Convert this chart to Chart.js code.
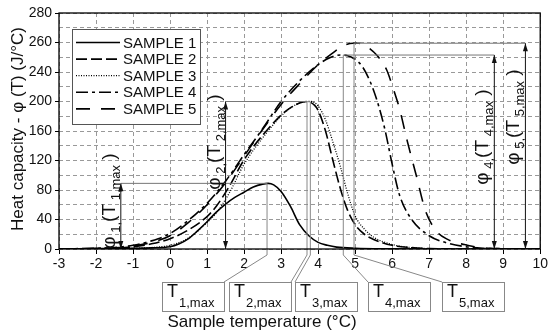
<!DOCTYPE html>
<html>
<head>
<meta charset="utf-8">
<script src="https://cdn.jsdelivr.net/npm/chart.js@4.4.1/dist/chart.umd.min.js"></script>
<style>
    html, body { margin: 0; padding: 0; background: #fff; }
</style>
</head>
<body>
<canvas id="heat-chart" width="550" height="334"></canvas>
<script>
// Heat capacity vs sample temperature, five samples

var sampleLabels = ["SAMPLE 1", "SAMPLE 2", "SAMPLE 3", "SAMPLE 4", "SAMPLE 5"];

var s1Temp = [-3, -2, -1, -0.5, 0, 0.25, 0.5, 0.75, 1, 1.25, 1.5, 1.75, 2, 2.25, 2.5, 2.65, 2.8, 3, 3.25, 3.5, 3.75, 4, 4.25, 4.5, 5, 6, 7, 10];
var s1Phi = [0, 0.5, 1, 1.5, 3, 7, 14, 25, 37, 50, 61, 70, 77, 84, 88, 89, 87, 78, 58, 33, 18, 9, 5, 2.5, 1, 0.3, 0, 0];

var s2Temp = [-3, -2, -1, -0.5, 0, 0.5, 1, 1.25, 1.6, 2, 2.6, 3.1, 3.5, 3.7, 3.9, 4, 4.2, 4.4, 4.6, 4.8, 5, 5.25, 5.5, 6, 6.5, 7, 8, 10];
var s2Phi = [0, 0.5, 3, 7, 14, 26, 44, 58, 85, 121, 160, 186, 198, 200, 195, 188, 160, 120, 82, 52, 33, 20, 13, 5, 2, 0.5, 0, 0];

var s3Temp = [-3, -2, -1, -0.5, 0, 0.5, 1, 1.25, 1.6, 2, 2.6, 3.1, 3.5, 3.8, 4, 4.2, 4.4, 4.6, 4.8, 5, 5.25, 5.5, 6, 6.5, 7, 8, 10];
var s3Phi = [0, 0.3, 1, 2, 5, 15, 36, 49, 76, 115, 157, 185, 198, 200, 194, 175, 145, 112, 75, 45, 27, 16, 6, 2, 0.5, 0, 0];

var s4Temp = [-3, -2, -1.5, -1, -0.5, 0, 0.5, 1, 1.5, 2, 2.5, 3, 3.5, 4, 4.3, 4.6, 4.8, 5, 5.2, 5.5, 5.8, 6, 6.2, 6.5, 7, 7.5, 8, 8.5, 9, 10];
var s4Phi = [0, 1, 2, 5, 11, 21, 39, 62, 92, 128, 163, 200, 228, 250, 259, 263, 262, 257, 247, 215, 163, 115, 73, 42, 18, 8, 3, 1, 0.3, 0];

var s5Temp = [-3, -2, -1.5, -1, -0.5, 0, 0.5, 1, 1.5, 2, 2.5, 3, 3.5, 4, 4.4, 4.7, 4.95, 5.1, 5.3, 5.6, 5.85, 6, 6.2, 6.4, 6.65, 6.9, 7.2, 7.5, 7.95, 8.4, 9, 10];
var s5Phi = [0, 0.5, 1.5, 4, 9, 18, 36, 60, 90, 126, 162, 196, 224, 250, 266, 276, 279, 279, 275, 262, 243, 222, 190, 148, 100, 52, 24, 13, 6, 2, 0.5, 0];

// y axis is evenly spaced, but printed with these labels
var yTickLabels = ["0", "40", "80", "120", "160", "200", "240", "260", "280"];

// marked maxima
var peakTemp = [2.62, 3.70, 3.79, 4.68, 4.97];
var peakPhi = [89, 200, 200, 263, 279];
var arrowTemp = [-1.33, 1.5, null, 8.76, 9.6];

var FONT = "'Liberation Sans', Arial, sans-serif";

function pairs(t, p) {
    var out = [];
    for (var i = 0; i < t.length; i++) out.push({ x: t[i], y: p[i] });
    return out;
}

var lineStyles = [
    { dash: [], width: 1.6 },
    { dash: [11, 4], width: 1.6 },
    { dash: [1, 1.5], width: 1.3 },
    { dash: [12, 4, 3, 4], width: 1.6 },
    { dash: [14, 11], width: 1.6 }
];
var temps = [s1Temp, s2Temp, s3Temp, s4Temp, s5Temp];
var phis = [s1Phi, s2Phi, s3Phi, s4Phi, s5Phi];

var datasets = sampleLabels.map(function (lab, i) {
    return {
        label: lab,
        data: pairs(temps[i], phis[i]),
        showLine: true,
        borderColor: "#000",
        borderWidth: lineStyles[i].width,
        borderDash: lineStyles[i].dash,
        pointRadius: 0,
        fill: false,
        cubicInterpolationMode: "monotone"
    };
});

function arrowHead(ctx, x, y, dir) {
    ctx.beginPath();
    ctx.moveTo(x, y);
    ctx.lineTo(x - 2.5, y - dir * 8);
    ctx.lineTo(x + 2.5, y - dir * 8);
    ctx.closePath();
    ctx.fill();
}

// text with subscripts, parts = [[text, isSub], ...], starting at x along baseline y
function subText(ctx, parts, x, y, big, small) {
    parts.forEach(function (p) {
        ctx.font = (p[1] ? small : big) + "px " + FONT;
        ctx.fillText(p[0], x, y + (p[1] ? 5 : 0));
        x += ctx.measureText(p[0]).width;
    });
}
function subWidth(ctx, parts, big, small) {
    var w = 0;
    parts.forEach(function (p) {
        ctx.font = (p[1] ? small : big) + "px " + FONT;
        w += ctx.measureText(p[0]).width;
    });
    return w;
}

var boxLeft = [162, 229, 295, 368, 442];
var labelCenterY = [201, 142, null, 137, 117];

var extras = {
    id: "extras",
    afterDatasetsDraw: function (chart) {
        var ctx = chart.ctx, xs = chart.scales.x, ys = chart.scales.y, a = chart.chartArea;
        ctx.save();
        ctx.setLineDash([]);
        ctx.textBaseline = "alphabetic";
        ctx.textAlign = "left";
        var y0 = ys.getPixelForValue(0);
        var boxTop = a.bottom + 33, boxW = 62, boxH = 29;

        for (var i = 0; i < 5; i++) {
            var px = xs.getPixelForValue(peakTemp[i]);
            var py = ys.getPixelForValue(peakPhi[i]);
            // vertical from peak to box connector
            ctx.strokeStyle = "#888";
            ctx.lineWidth = 1;
            ctx.beginPath();
            ctx.moveTo(px, py);
            ctx.lineTo(px, a.bottom + 6);
            var cx = i < 2 ? boxLeft[i] + boxW : boxLeft[i];
            ctx.lineTo(cx, boxTop);
            ctx.stroke();

            // T box
            ctx.fillStyle = "#fff";
            ctx.fillRect(boxLeft[i], boxTop, boxW, boxH);
            ctx.strokeRect(boxLeft[i] + 0.5, boxTop + 0.5, boxW, boxH);
            ctx.fillStyle = "#111";
            ctx.font = "18px " + FONT;
            ctx.fillText("T", boxLeft[i] + 5, boxTop + 15);
            ctx.font = "13px " + FONT;
            ctx.fillText((i + 1) + ",max", boxLeft[i] + 17, boxTop + 25);

            if (arrowTemp[i] === null) continue;
            var ax = xs.getPixelForValue(arrowTemp[i]);
            // horizontal from peak to arrow
            ctx.strokeStyle = "#777";
            ctx.beginPath();
            ctx.moveTo(px, py);
            ctx.lineTo(ax, py);
            ctx.stroke();
            // double arrow
            ctx.strokeStyle = "#111";
            ctx.fillStyle = "#111";
            ctx.beginPath();
            ctx.moveTo(ax, py);
            ctx.lineTo(ax, y0);
            ctx.stroke();
            arrowHead(ctx, ax, py, -1);
            arrowHead(ctx, ax, y0, 1);

            // rotated label
            var parts = [["\u03C6", false], [" " + (i + 1) + ",", true], ["(T", false], [" " + (i + 1) + ",max", true], [" )", false]];
            var w = subWidth(ctx, parts, 19, 13);
            ctx.save();
            ctx.translate(ax - 6, labelCenterY[i]);
            ctx.rotate(-Math.PI / 2);
            subText(ctx, parts, -w / 2, 0, 19, 13);
            ctx.restore();
        }

        // legend
        var lx = 72, ly = 29, lw = 128, lh = 95;
        ctx.fillStyle = "#fff";
        ctx.fillRect(lx, ly, lw, lh);
        ctx.strokeStyle = "#555";
        ctx.lineWidth = 1;
        ctx.strokeRect(lx + 0.5, ly + 0.5, lw, lh);
        ctx.font = "15px " + FONT;
        ctx.textBaseline = "middle";
        chart.data.datasets.forEach(function (ds, k) {
            var yy = ly + 13.5 + k * 16.6;
            ctx.strokeStyle = "#000";
            ctx.lineWidth = ds.borderWidth;
            ctx.setLineDash(ds.borderDash);
            ctx.beginPath();
            ctx.moveTo(lx + 4, yy);
            ctx.lineTo(lx + 48, yy);
            ctx.stroke();
            ctx.setLineDash([]);
            ctx.fillStyle = "#111";
            ctx.fillText(ds.label, lx + 51, yy + 1);
        });

        // frame
        ctx.strokeStyle = "#000";
        ctx.lineWidth = 1.3;
        ctx.strokeRect(a.left, a.top, a.right - a.left, a.bottom - a.top);

        // axis titles
        ctx.fillStyle = "#111";
        ctx.font = "17px " + FONT;
        ctx.textAlign = "center";
        ctx.textBaseline = "middle";
        ctx.fillText("Sample temperature (\u00B0C)", 262, 322);
        ctx.save();
        ctx.translate(18, 129);
        ctx.rotate(-Math.PI / 2);
        ctx.fillText("Heat capacity - \u03C6 (T) (J/\u00B0C)", 0, 0);
        ctx.restore();
        ctx.restore();
    }
};

new Chart(document.getElementById("heat-chart"), {
    type: "scatter",
    data: { datasets: datasets },
    plugins: [extras],
    options: {
        responsive: false,
        animation: false,
        devicePixelRatio: 1,
        layout: { padding: { top: 13, right: 9, left: 0, bottom: 0 } },
        plugins: { legend: { display: false }, tooltip: { enabled: false } },
        scales: {
            x: {
                type: "linear",
                min: -3,
                max: 10,
                afterFit: function (s) { s.height = 85; },
                ticks: { stepSize: 1, color: "#111", font: { family: FONT, size: 14 }, padding: 2, maxRotation: 0 },
                grid: { color: "#999", tickLength: 5, tickColor: "#000", tickBorderDash: [] },
                border: { display: false, dash: [4, 3] }
            },
            y: {
                type: "linear",
                min: 0,
                max: 320,
                afterFit: function (s) { s.width = 59; },
                ticks: {
                    stepSize: 20,
                    autoSkip: false,
                    color: "#111",
                    font: { family: FONT, size: 14 },
                    padding: 3,
                    callback: function (v) { return v % 40 === 0 ? yTickLabels[v / 40] : ""; }
                },
                grid: {
                    color: "#999",
                    tickLength: 4,
                    tickBorderDash: [],
                    tickColor: function (c) { return c.tick && c.tick.value % 40 === 0 ? "#000" : "rgba(0,0,0,0)"; }
                },
                border: { display: false, dash: [4, 3] }
            }
        }
    }
});
</script>
</body>
</html>
